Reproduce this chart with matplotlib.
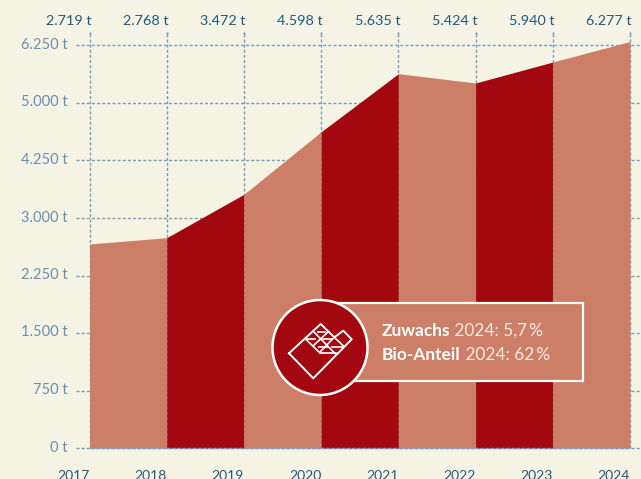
import matplotlib
matplotlib.use("Agg")
import matplotlib.pyplot as plt
import numpy as np
from matplotlib.patches import Circle, Rectangle
from matplotlib.transforms import ScaledTranslation

plt.rcParams['font.family'] = ['Lato', 'DejaVu Sans']

years = [2017, 2018, 2019, 2020, 2021, 2022, 2023, 2024]
# heights, they differ a little from the printed labels
values = [2661, 2743, 3515, 4624, 5637, 5435, 5891, 6337]
top_labels = ['2.719 t', '2.768 t', '3.472 t', '4.598 t', '5.635 t', '5.424 t', '5.940 t', '6.277 t']
y_ticks = [0, 750, 1500, 2250, 3000, 4250, 5000, 6250]
y_labels = ['0 t', '750 t', '1.500 t', '2.250 t', '3.000 t', '4.250 t', '5.000 t', '6.250 t']

bg = '#f5f3e4'
light = '#cd7e66'
dark = '#a30810'
grid_col = '#7c9dc0'
ylab_col = '#6a8fae'
toplab_col = '#1f5a80'

W, H = 641, 479
fig = plt.figure(figsize=(W / 100, H / 100), dpi=100, facecolor=bg)
ax = fig.add_axes([89.5 / W, (H - 448) / H, (630 - 89.5) / W, (448 - 45.5) / H])
ax.set_facecolor('none')

# the axis is not linear, the ticks are evenly spaced but the steps differ
idx = np.arange(len(y_ticks))


def forward(v):
    v = np.asarray(v, dtype=float)
    return np.interp(v, y_ticks, idx) + np.clip(v - 6250, 0, None) / 1250


def inverse(p):
    p = np.asarray(p, dtype=float)
    return np.interp(p, idx, y_ticks) + np.clip(p - 7, 0, None) * 1250


ax.set_yscale('function', functions=(forward, inverse))
ax.set_xlim(years[0], years[-1])
ax.set_ylim(0, 6250)

for s in ax.spines.values():
    s.set_visible(False)
ax.set_xticks([])
ax.set_yticks(y_ticks)
ax.set_yticklabels(y_labels, color=ylab_col, fontsize=10.5)
ax.tick_params(axis='y', length=0, pad=16)
ax.minorticks_off()
for lab in ax.get_yticklabels():
    lab.set_transform(lab.get_transform() + ScaledTranslation(0, 2 / 100, fig.dpi_scale_trans))

# dashed grid, runs past the axes on both sides
dash = (0, (2.2, 1.5))
tr = ax.get_yaxis_transform()
for t in y_ticks:
    ax.plot([-13.5 / 540.5, 1.03], [t, t], transform=tr, color=grid_col, lw=1.0, ls=dash, clip_on=False, zorder=1)
xtr = ax.get_xaxis_transform()
for i, yr in enumerate(years):
    ax.plot([yr, yr], [0, 1.03], transform=xtr, color=grid_col, lw=1.0, ls=dash, clip_on=False, zorder=1)
    ax.plot([yr], [1.03], transform=xtr, marker='o', ms=1.6, mew=0, color=grid_col, clip_on=False, zorder=1)
    ax.annotate(top_labels[i], (yr, 1), xycoords=xtr, xytext=(2, 20), textcoords='offset pixels',
                ha='right', va='baseline', color=toplab_col, fontsize=10.4)
    ax.annotate(str(yr), (yr, 0), xycoords=xtr, xytext=(0, -22), textcoords='offset pixels',
                ha='right', va='top', color=toplab_col, fontsize=10)

# one band per year step
for i in range(len(years) - 1):
    col = light if i % 2 == 0 else dark
    xs = np.linspace(years[i], years[i + 1], 40)
    ps = np.interp(xs, [years[i], years[i + 1]], forward([values[i], values[i + 1]]))
    ax.fill_between(xs, inverse(ps), 0, color=col, lw=0, clip_on=False, zorder=2)
ax.plot([years[0], years[-1]], [0, 0], color=grid_col, lw=1.0, ls=dash, clip_on=False, zorder=3)

# callout, in pixel coordinates
ov = fig.add_axes([0, 0, 1, 1])
ov.set_xlim(0, W)
ov.set_ylim(H, 0)
ov.axis('off')
ov.add_patch(Rectangle((330, 303), 253, 77.5, fc=light, ec='white', lw=1.6, zorder=5))
ov.add_patch(Circle((320, 347.5), 47.5, fc=dark, ec='white', lw=1.8, zorder=6))

# chocolate bar icon
outline = [(289, 353.3), (320.7, 324), (334.3, 337.3), (343.3, 330.7), (351.7, 339.3), (313.3, 378.3), (289, 353.3)]
ov.plot(*zip(*outline), color='white', lw=1.4, zorder=7, solid_joinstyle='round')
inner = [[(305, 338.5), (320, 353)], [(313, 331), (336, 354.5)], [(334.3, 337.3), (344, 346.5)],
         [(328.5, 331.5), (313, 346)], [(334.3, 337.3), (320, 352)],
         [(307, 339), (315, 339)], [(318, 332), (325, 332)], [(323, 339), (331, 339)],
         [(332, 346.5), (342, 346.5)], [(319, 346.5), (328, 346.5)], [(320, 353), (336, 353)]]
for seg in inner:
    ov.plot(*zip(*seg), color='white', lw=1.2, zorder=7)

for label, rest, y in [('Zuwachs', '2024: 5,7\u2009%', 336), ('Bio-Anteil', '2024: 62\u2009%', 360.5)]:
    t = ov.text(382, y, label, color='white', fontsize=12.4, fontweight='bold', va='baseline', zorder=7)
    ov.annotate(' ' + rest, xy=(1, 0), xycoords=t, va='bottom', color='#f8ece4', fontsize=12.4, zorder=7)

fig.savefig('out.png', dpi=100, facecolor=bg)
